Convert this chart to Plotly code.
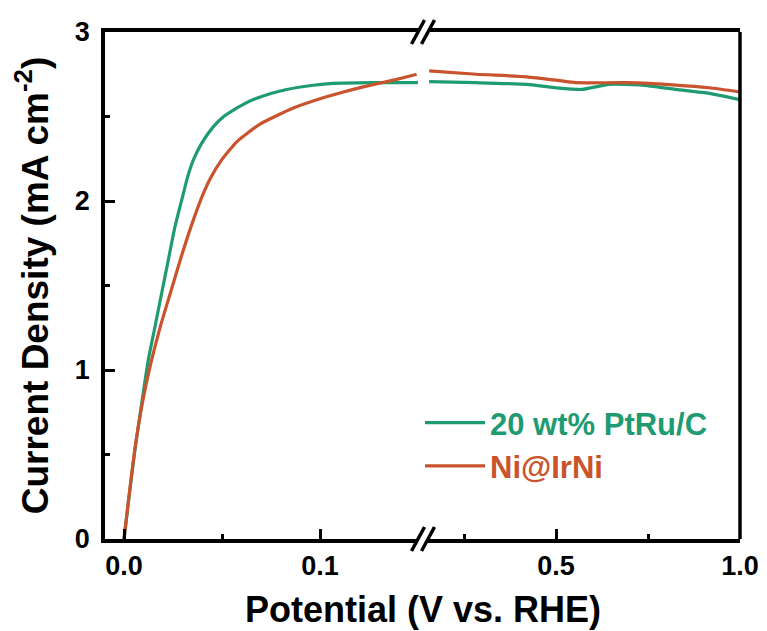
import plotly.graph_objects as go

# ---- data ----
green_left_x = [0.0, 0.0028, 0.0056, 0.0090, 0.0124, 0.0158, 0.0192, 0.0226, 0.0260, 0.0303, 0.0325, 0.0354,
                0.0396, 0.0456, 0.0507, 0.0558, 0.0609, 0.0660, 0.0745, 0.0830, 0.0966, 0.1068, 0.127, 0.15]
green_left_y = [0.0, 0.27, 0.53, 0.80, 1.06, 1.256, 1.454, 1.651, 1.848, 2.045, 2.144, 2.243,
                2.341, 2.440, 2.499, 2.538, 2.572, 2.600, 2.635, 2.660, 2.685, 2.696, 2.70, 2.70]
red_left_x = [0.0, 0.0027, 0.0055, 0.0093, 0.0137, 0.0186, 0.0235, 0.0287, 0.0338, 0.0396, 0.0441, 0.0498,
              0.0575, 0.0694, 0.0864, 0.100, 0.1119, 0.1221, 0.1374, 0.1493]
red_left_y = [0.0, 0.27, 0.53, 0.80, 1.04, 1.26, 1.45, 1.651, 1.835, 2.02, 2.135, 2.243,
              2.35, 2.455, 2.55, 2.605, 2.645, 2.675, 2.715, 2.75]

green_right_x = [0.155, 0.283, 0.42, 0.50, 0.57, 0.644, 0.734, 0.826, 0.916, 1.0]
green_right_y = [2.706, 2.70, 2.69, 2.67, 2.66, 2.69, 2.686, 2.66, 2.637, 2.60]
red_right_x = [0.155, 0.283, 0.42, 0.50, 0.554, 0.69, 0.826, 0.916, 1.0]
red_right_y = [2.77, 2.75, 2.735, 2.715, 2.70, 2.70, 2.686, 2.67, 2.645]

series_names = ["20 wt% PtRu/C", "Ni@IrNi"]
colors = ["#1f9b72", "#c9532c"]
y_ticks = [0, 1, 2, 3]
left_ticks = [0.0, 0.1]
left_labels = ["0.0", "0.1"]
right_ticks = [0.5, 1.0]
right_labels = ["0.5", "1.0"]

FONT = "Liberation Sans, Arial, sans-serif"

fig = go.Figure()
for name, color, (lx, ly), (rx, ry) in [
    (series_names[0], colors[0], (green_left_x, green_left_y), (green_right_x, green_right_y)),
    (series_names[1], colors[1], (red_left_x, red_left_y), (red_right_x, red_right_y)),
]:
    fig.add_trace(go.Scatter(
        x=lx, y=ly, mode="lines", xaxis="x", yaxis="y",
        line=dict(color=color, width=3.2, shape="spline", smoothing=0.5),
        name=f"<span style='color:{color}'>{name}</span>", legendgroup=name, showlegend=True))
    fig.add_trace(go.Scatter(
        x=rx, y=ry, mode="lines", xaxis="x2", yaxis="y",
        line=dict(color=color, width=3.2, shape="spline", smoothing=0.5),
        name=name, legendgroup=name, showlegend=False))

W, H = 767, 631
L, R, T, B = 105, 740, 32, 539
pw, ph = R - L, B - T
def px(xp):
    return (xp - L) / pw
def py(yp):
    return (B - yp) / ph

axis_common = dict(
    showline=True, linecolor="black", linewidth=3.5, mirror=True,
    ticks="inside", ticklen=10, tickwidth=3, tickcolor="black",
    showgrid=False, zeroline=False,
    tickfont=dict(family=FONT, size=27, color="black", weight="bold"),
    ticklabelstandoff=0,
)

fig.update_layout(
    width=W, height=H,
    margin=dict(l=L, r=W - R, t=T, b=H - B, autoexpand=False),
    paper_bgcolor="white", plot_bgcolor="white",
    xaxis=dict(domain=[0, px(418)], range=[-0.0097, 0.15], anchor="y",
               tickvals=left_ticks, ticktext=left_labels,
               minor=dict(ticks="inside", ticklen=5, tickwidth=3, tickcolor="black", dtick=0.05, showgrid=False),
               **axis_common),
    xaxis2=dict(domain=[px(428), 1], range=[0.152, 1.0], anchor="y",
                tickvals=right_ticks, ticktext=right_labels,
                minor=dict(ticks="inside", ticklen=5, tickwidth=3, tickcolor="black", dtick=0.25, showgrid=False),
                **axis_common),
    yaxis=dict(range=[0, 3], anchor="x", tickvals=y_ticks,
               showline=True, linecolor="black", linewidth=3.5, mirror=False,
               ticks="inside", ticklen=10, tickwidth=3, tickcolor="black",
               showgrid=False, zeroline=False,
               tickfont=dict(family=FONT, size=27, color="black", weight="bold"),
               ticklabelstandoff=6,
               minor=dict(ticks="inside", ticklen=5, tickwidth=3, tickcolor="black", dtick=0.5, showgrid=False),
               title=dict(text="Current Density (mA cm<sup>-2</sup>)",
                          font=dict(family=FONT, size=37, color="black", weight="bold"),
                          standoff=16)),
    legend=dict(x=px(420), y=py(396), xanchor="left", yanchor="top",
                bgcolor="rgba(0,0,0,0)", borderwidth=0,
                font=dict(family=FONT, size=31, weight="bold"),
                tracegroupgap=0, itemwidth=60),
    showlegend=True,
)

# x-axis title centred under the whole broken axis
fig.add_annotation(text="Potential (V vs. RHE)", xref="paper", yref="paper",
                   x=0.5, y=py(609), xanchor="center", yanchor="middle", showarrow=False,
                   font=dict(family=FONT, size=36, color="black", weight="bold"))

# right frame line
fig.add_shape(type="line", xref="paper", yref="paper", x0=1, x1=1, y0=0, y1=1,
              line=dict(color="black", width=3.5))
# axis-break marks
for yc in (T, B):
    for xc in (418, 428):
        fig.add_shape(type="line", xref="paper", yref="paper",
                      x0=px(xc - 6.5), y0=py(yc + 12), x1=px(xc + 6.5), y1=py(yc - 12),
                      line=dict(color="black", width=3.5))

fig.write_html("out.html")
